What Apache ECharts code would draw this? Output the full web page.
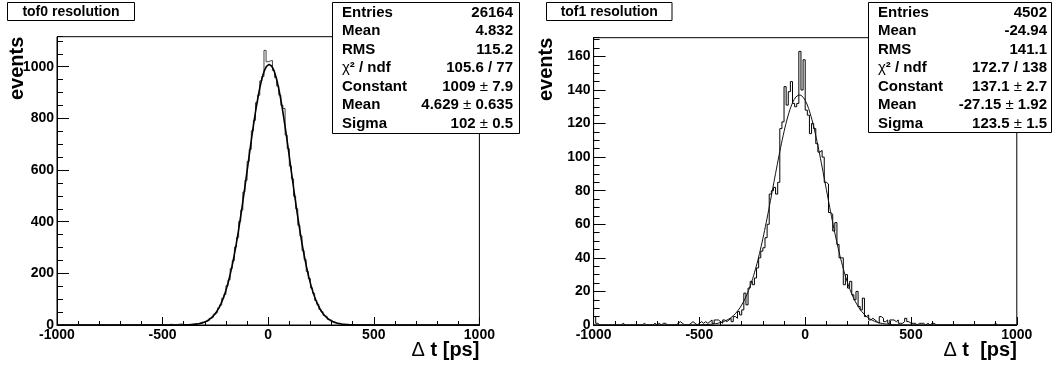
<!DOCTYPE html>
<html><head><meta charset="utf-8">
<script src="https://cdn.jsdelivr.net/npm/echarts@6/dist/echarts.min.js"></script>
<style>html,body{margin:0;padding:0;background:#fff}#c{width:1060px;height:366px}</style>
</head><body><div id="c"></div>
<script>
// ---------------- data ----------------
const histRange = [-1000, 1000];            // 200 bins of 10 ps
const xTickValues = [-1000, -500, 0, 500, 1000];

const tof0Counts = [
  0,0,1,0,0,0,1,0,0,0,
  0,0,0,1,0,0,0,0,1,0,
  0,1,0,0,0,0,1,0,0,1,
  0,0,1,0,1,0,0,1,0,1,
  0,1,1,0,2,1,0,1,1,2,
  1,2,1,3,2,1,2,3,4,2,
  2,1,3,2,4,6,5,8,11,9,
  15,17,26,29,42,48,66,77,104,118,
  152,175,219,249,302,338,401,445,515,560,
  633,680,752,792,861,889,945,962,1063,1019,
  1022,1024,985,958,925,890,850,838,735,683,
  615,566,498,450,386,345,288,253,207,180,
  143,123,95,80,60,51,37,32,21,19,
  12,11,6,7,3,4,2,3,1,2,
  1,2,1,0,2,1,1,0,1,1,
  0,1,0,1,0,0,1,0,0,1,
  0,0,1,0,0,0,0,1,0,0,
  0,0,0,0,1,0,0,0,0,0,
  0,1,0,0,0,0,0,0,1,0,
  0,0,0,0,0,0,0,1,0,0
];
const tof1Counts = [
  5,1,0,0,0,0,0,0,0,0,
  0,0,0,1,0,0,0,0,0,0,
  0,0,0,1,0,0,0,0,1,0,
  1,0,1,1,0,0,0,0,0,1,
  2,1,0,0,0,1,2,1,0,1,
  2,1,2,1,2,3,1,3,3,2,
  1,3,2,3,4,2,5,4,8,6,
  9,19,12,22,26,24,28,34,40,44,
  46,52,60,78,80,82,78,85,117,121,
  142,131,139,145,132,130,132,163,140,158,
  128,125,114,120,117,108,103,104,100,85,
  84,67,66,56,61,48,40,40,24,30,
  22,26,18,15,20,11,9,16,5,6,
  3,4,3,2,1,5,4,2,3,1,
  3,3,2,3,1,1,2,4,2,1,
  1,1,0,1,1,1,0,1,0,1,
  1,0,0,0,0,0,0,0,0,0,
  0,0,0,0,0,0,0,0,0,0,
  0,0,0,0,0,0,0,0,0,1,
  0,0,0,0,0,0,0,0,0,0
];

// gaussian fit parameters [constant, mean, sigma] as printed in the stat boxes
const tof0FitParams = [1009, 4.629, 102];
const tof1FitParams = [137.1, -27.15, 123.5];

const tof0Title = 'tof0 resolution';
const tof1Title = 'tof1 resolution';
const statLabels = ['Entries', 'Mean', 'RMS', 'CHI2', 'Constant', 'Mean', 'Sigma'];
const tof0StatValues = ['26164', '4.832', '115.2', '105.6 / 77', '1009 ± 7.9', '4.629 ± 0.635', '102 ± 0.5'];
const tof1StatValues = ['4502', '-24.94', '141.1', '172.7 / 138', '137.1 ± 2.7', '-27.15 ± 1.92', '123.5 ± 1.5'];
const yTitle = 'events';
const tof0XTitle = 'Δ t [ps]';
const tof1XTitle = 'Δ t  [ps]';
const yMaxes = [1116, 171.15];
const yMajor = [200, 20];
const yMinor = [50, 5];

// ---------------- helpers ----------------
function stepPoints(counts) {
  const w = (histRange[1] - histRange[0]) / counts.length;
  const pts = [];
  counts.forEach((v, i) => {
    const lo = histRange[0] + i * w;
    pts.push([lo, v], [lo + w, v]);
  });
  return pts;
}
function fitPoints(p) {
  const pts = [];
  for (let x = histRange[0]; x <= histRange[1]; x += 4) {
    pts.push([x, p[0] * Math.exp(-0.5 * Math.pow((x - p[1]) / p[2], 2))]);
  }
  return pts;
}
const FONT = '"Liberation Sans", Arial, Helvetica, sans-serif';
const grids = [
  {left: 57, right: 580.6, top: 36.7, bottom: 41},
  {left: 593.6, right: 43.2, top: 37.7, bottom: 41}
];
const plain = v => String(v);

const xAxes = [], yAxes = [];
[0, 1].forEach(g => {
  xAxes.push({
    type: 'value', gridIndex: g, min: histRange[0], max: histRange[1], interval: 500,
    axisLine: {onZero: false, lineStyle: {color: '#000', width: 1}},
    axisTick: {inside: true, length: 8, lineStyle: {color: '#000'}},
    minorTick: {show: true, splitNumber: 5, length: 4, lineStyle: {color: '#000'}},
    axisLabel: {color: '#000', fontFamily: FONT, fontWeight: 'bold', fontSize: 14, margin: 3,
      formatter: plain},
    splitLine: {show: false}
  });
  yAxes.push({
    type: 'value', gridIndex: g, min: 0, max: yMaxes[g], interval: yMajor[g], position: 'left',
    axisLine: {show: true, onZero: false, lineStyle: {color: '#000', width: 1}},
    axisTick: {inside: true, length: 12, lineStyle: {color: '#000'}},
    axisLabel: {color: '#000', fontFamily: FONT, fontWeight: 'bold', fontSize: 14, margin: 3,
      showMaxLabel: false, formatter: plain},
    splitLine: {show: false}
  });
  yAxes.push({
    type: 'value', gridIndex: g, min: 0, max: yMaxes[g], interval: yMinor[g], position: 'left',
    axisLine: {show: false, onZero: false},
    axisTick: {show: true, inside: true, length: 6, lineStyle: {color: '#000'}},
    axisLabel: {show: false},
    splitLine: {show: false}
  });
});

function statBox(x0, y0, w, h, labelX, valueX, values) {
  const els = [{type: 'rect', shape: {x: x0, y: y0, width: w, height: h},
    style: {fill: '#fff', stroke: '#000', lineWidth: 1}, z: 10}];
  const rich = {
    n: {fontFamily: FONT, fontWeight: 'normal', fontSize: 15, fill: '#000'},
    b: {fontFamily: FONT, fontWeight: 'bold', fontSize: 15, fill: '#000'}
  };
  statLabels.forEach((lab, i) => {
    const y = 12.7 + i * 18.45;
    const labText = lab === 'CHI2' ? '{n|χ}{b|² / ndf}' : '{b|' + lab + '}';
    els.push({type: 'text', x: labelX, y: y, z: 11,
      style: {text: labText, rich: rich, align: 'left', verticalAlign: 'middle',
        font: 'bold 15px ' + FONT, fill: '#000'}});
    const v = values[i].replace(' ± ', '}{n| ± }{b|');
    els.push({type: 'text', x: valueX, y: y, z: 11,
      style: {text: '{b|' + v + '}', rich: rich, align: 'right', verticalAlign: 'middle',
        font: 'bold 15px ' + FONT, fill: '#000'}});
  });
  return els;
}
function titleBox(x0, w, text) {
  return [
    {type: 'rect', shape: {x: x0, y: 2.5, width: w, height: 18},
      style: {fill: '#fff', stroke: '#000', lineWidth: 1}, z: 10},
    {type: 'text', x: x0 + w / 2, y: 11.7, z: 11,
      style: {text: text, align: 'center', verticalAlign: 'middle', font: 'bold 14px ' + FONT, fill: '#000'}}
  ];
}
function axisTitles(yx, yy, xx, xText) {
  const rich = {
    n: {fontFamily: FONT, fontWeight: 'normal', fontSize: 20, fill: '#000'},
    b: {fontFamily: FONT, fontWeight: 'bold', fontSize: 20, fill: '#000'}
  };
  return [
    {type: 'text', x: yx, y: yy, rotation: Math.PI / 2, z: 11,
      style: {text: yTitle, align: 'right', verticalAlign: 'middle', font: 'bold 20px ' + FONT, fill: '#000'}},
    {type: 'text', x: xx, y: 350.5, z: 11,
      style: {text: '{n|Δ}{b|' + xText.slice(1) + '}', rich: rich, align: 'right', verticalAlign: 'middle',
        font: 'bold 20px ' + FONT, fill: '#000'}}
  ];
}

const graphic = [].concat(
  titleBox(7.5, 127, tof0Title),
  titleBox(546.5, 125.5, tof1Title),
  statBox(332.5, 2.5, 187, 131, 342, 513, tof0StatValues),
  statBox(868.5, 2.5, 183, 130, 878, 1047, tof1StatValues),
  axisTitles(17, 36.7, 479.4, tof0XTitle),
  axisTitles(546, 37.7, 1016.8, tof1XTitle)
);

const option = {
  animation: false,
  backgroundColor: '#fff',
  grid: grids.map(g => Object.assign({show: true, borderColor: '#000', borderWidth: 1, backgroundColor: '#fff'}, g)),
  xAxis: xAxes,
  yAxis: yAxes,
  series: [
    {type: 'line', xAxisIndex: 0, yAxisIndex: 0, data: stepPoints(tof0Counts), symbol: 'none',
      lineStyle: {color: '#444', width: 1}, z: 2},
    {type: 'line', xAxisIndex: 0, yAxisIndex: 0, data: fitPoints(tof0FitParams), symbol: 'none',
      lineStyle: {color: '#000', width: 1.6}, z: 3},
    {type: 'line', xAxisIndex: 1, yAxisIndex: 2, data: stepPoints(tof1Counts), symbol: 'none',
      lineStyle: {color: '#000', width: 1}, z: 2},
    {type: 'line', xAxisIndex: 1, yAxisIndex: 2, data: fitPoints(tof1FitParams), symbol: 'none',
      lineStyle: {color: '#111', width: 1}, z: 3}
  ],
  graphic: graphic
};
const chart = echarts.init(document.getElementById('c'), null, {renderer: 'canvas'});
chart.setOption(option);
</script>
</body></html>
